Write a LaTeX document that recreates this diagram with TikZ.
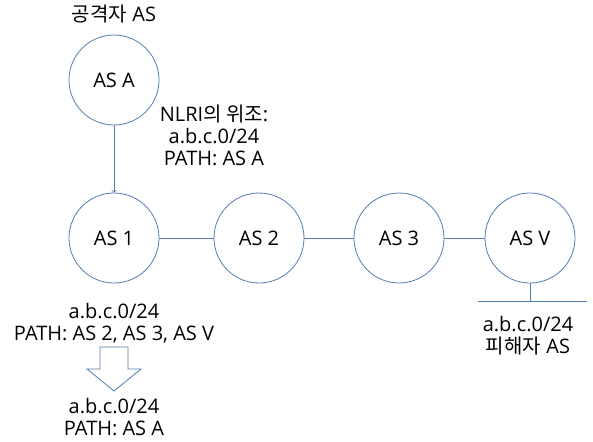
\documentclass[tikz,border=0pt]{standalone}
\usepackage{fontspec}
\setmainfont{Open Sans}
\newfontfamily\krfont{Noto Sans CJK KR}
\usetikzlibrary{positioning}
\definecolor{asline}{RGB}{84,124,178}
\tikzset{
  asnode/.style={circle,draw=asline,thick,fill=white,minimum size=90pt,inner sep=0pt},
  aslink/.style={draw=asline,thick},
  astext/.style={align=center,inner sep=0pt,font=\fontsize{20}{22}\selectfont}
}
\begin{document}
\begin{tikzpicture}[x=1pt,y=-1pt]
\useasboundingbox (0,0) rectangle (593,441);
\def\yRow{238};
	% AS 노드
	\node[asnode,astext] (asA) at (114,80) {AS A};
	\node[asnode,astext] (as1) at (114,\yRow) {AS 1};
	\node[asnode,astext] (as2) at (259,\yRow) {AS 2};
	\node[asnode,astext] (as3) at (399,\yRow) {AS 3};
	\node[asnode,astext] (asV) at (530,\yRow) {AS V};
	\node[astext] (attacker) at (114,14) {{\krfont 공격자} AS};
	\node[astext] (forged) at (214,135) {NLRI{\krfont 의 위조}:\\a.b.c.0/24\\PATH: AS A};
	% 연결
	\draw[aslink,->] (asA) -- (as1);
	\foreach \a/\b in {as1/as2,as2/as3,as3/asV} \draw[aslink] (\a) -- (\b);
	% 피해자 AS
	\coordinate (stubL) at (478,301);
	\coordinate (stubR) at (587,301);
	\draw[aslink] (stubL) -- (stubR);
	\draw[aslink] (asV.south) -- (asV.south |- stubL);
	\node[astext] (victim) at (528,336) {a.b.c.0/24\\{\krfont 피해자} AS};
	% 경로 변경
	\node[astext] (before) at (114,323) {a.b.c.0/24\\PATH: AS 2, AS 3, AS V};
	\node[astext] (after) at (114,417) {a.b.c.0/24\\PATH: AS A};
	\coordinate (tip) at (114,391);
	\draw[asline,thick,line join=miter] (tip) -- ++(-27,-22) -- ++(13,0) -- ++(0,-22) -- ++(28,0) -- ++(0,22) -- ++(13,0) -- cycle;
\end{tikzpicture}
\end{document}
